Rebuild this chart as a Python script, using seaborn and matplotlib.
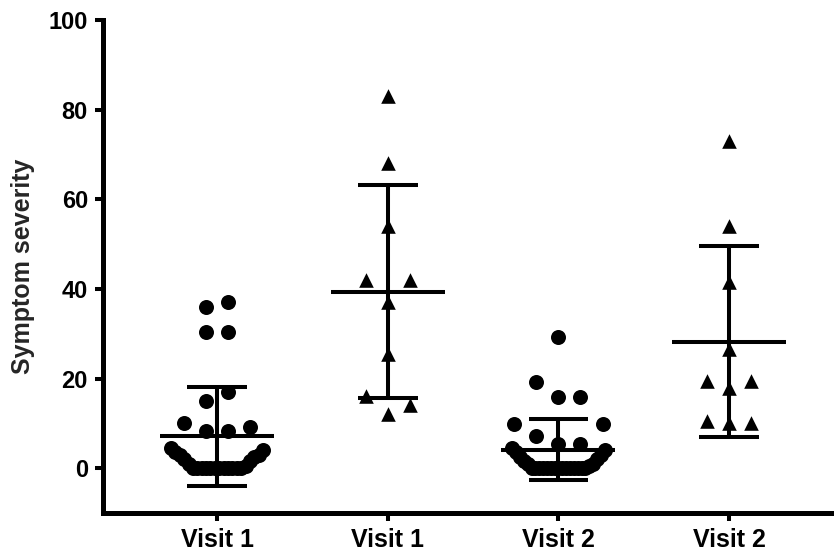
import numpy as np
import pandas as pd
import matplotlib
matplotlib.use("Agg")
import matplotlib.pyplot as plt
import seaborn as sns

# ---------------- data ----------------
groups = ["v1_circle", "v1_triangle", "v2_circle", "v2_triangle"]
tick_labels = ["Visit 1", "Visit 1", "Visit 2", "Visit 2"]
y_label = "Symptom severity"
y_ticks = [0, 20, 40, 60, 80, 100]

v1_circle = [37, 36, 30.3, 30.3, 17, 15, 10, 9.1, 8.2, 8.2,
             4.5, 4, 3.5, 3, 3, 2.5, 2, 1.5, 1, 0.5,
             0, 0, 0, 0, 0, 0, 0, 0, 0, 0, 0, 0]
v1_triangle = [83, 68, 54, 42, 42, 37, 25.5, 16, 14, 12]
v2_circle = [29.2, 19.2, 15.8, 15.8, 9.9, 9.9, 7.1, 5.4, 5.4,
             4.5, 4, 3.5, 3, 2.5, 2, 1.5, 1, 1, 0.5,
             0, 0, 0, 0, 0, 0, 0, 0, 0, 0, 0, 0, 0, 0, 0]
v2_triangle = [73, 54, 41.5, 26.5, 19.5, 19.5, 18, 10.5, 10, 10]

series = {"v1_circle": v1_circle, "v1_triangle": v1_triangle,
          "v2_circle": v2_circle, "v2_triangle": v2_triangle}
shape = {"v1_circle": "o", "v1_triangle": "^", "v2_circle": "o", "v2_triangle": "^"}


# GraphPad-like column scatter layout: values grouped into rows,
# each row spread sideways from the centre in ascending order.
def column_offsets(values, row_height=5.2, step=0.129, max_span=0.54):
    vals = np.asarray(values, float)
    order = np.argsort(vals, kind="stable")
    offs = np.zeros(len(vals))
    i = 0
    while i < len(order):
        start = vals[order[i]]
        j = i
        while j < len(order) and vals[order[j]] - start < row_height:
            j += 1
        idx = order[i:j]
        n = len(idx)
        sp = step if n < 2 else min(step, max_span / (n - 1))
        slots = []
        if n % 2:
            slots.append(0.0)
            k = 1
            while len(slots) < n:
                slots += [k, -k]
                k += 1
        else:
            slots += [-0.5, 0.5]
            k = 1
            while len(slots) < n:
                slots += [k + 0.5, -(k + 0.5)]
                k += 1
        offs[idx] = np.array(slots[:n]) * sp
        i = j
    return offs


rows = []
for gi, g in enumerate(groups):
    vals = series[g]
    offs = column_offsets(vals)
    for v, o in zip(vals, offs):
        rows.append({"group": g, "value": v, "xpos": gi + o, "shape": shape[g]})
df = pd.DataFrame(rows)

# ---------------- style ----------------
sns.set_style("ticks")
plt.rcParams["font.family"] = ["Liberation Sans", "DejaVu Sans"]
plt.rcParams["font.weight"] = "bold"

fig = plt.figure(figsize=(8.34, 5.52), dpi=100)
ax = fig.add_axes([103 / 834, 39 / 552, 731 / 834, 493 / 552])

# mean +/- SD error bars
sns.pointplot(data=df, x="group", y="value", order=groups, errorbar="sd",
              capsize=0.35, markers="", linestyles="none", color="black",
              err_kws={"linewidth": 2.9, "solid_capstyle": "butt"}, ax=ax)
# mean line
sns.pointplot(data=df, x="group", y="value", order=groups, errorbar=None,
              markers="_", linestyles="none", color="black",
              markersize=82, markeredgewidth=2.9, ax=ax)

# individual points
sns.scatterplot(data=df[df["shape"] == "o"], x="xpos", y="value", marker="o",
                s=10.8 ** 2, color="black", linewidth=0, ax=ax, zorder=1)
sns.scatterplot(data=df[df["shape"] == "^"], x="xpos", y="value", marker="^",
                s=10.5 ** 2, color="black", linewidth=0, ax=ax, zorder=1)

ax.set_xlim(-0.668, 3.614)
ax.set_ylim(-10, 100)
ax.set_yticks(y_ticks)
ax.set_xticks(range(len(groups)))
ax.set_xticklabels(tick_labels, fontsize=18, fontweight="bold")
ax.tick_params(axis="y", labelsize=17)
for lab in ax.get_yticklabels():
    lab.set_fontweight("bold")
ax.tick_params(axis="both", direction="out", length=5.8, width=2.9, pad=5,
               color="black", labelcolor="black")
ax.set_xlabel("")
ax.set_ylabel(y_label, fontsize=18, fontweight="bold", labelpad=10)

for side in ["top", "right"]:
    ax.spines[side].set_visible(False)
for side in ["left", "bottom"]:
    ax.spines[side].set_linewidth(3.6)
    ax.spines[side].set_color("black")

fig.savefig("out.png", dpi=100)
